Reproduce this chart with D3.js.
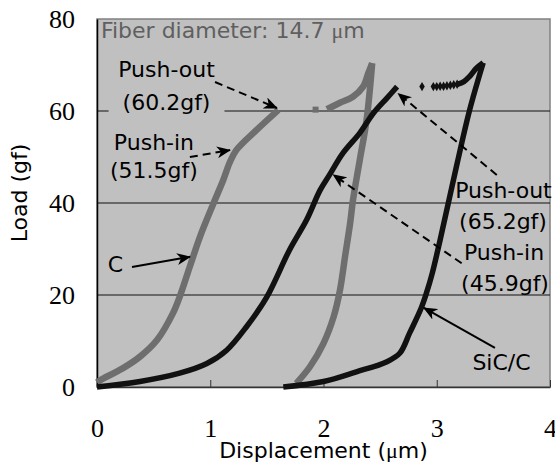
<!DOCTYPE html>
<html>
<head>
<meta charset="utf-8">
<script src="https://cdn.jsdelivr.net/npm/d3@7"></script>
<style>
	body { margin: 0; background: #fff; }
	svg { display: block; }
	.lbl { font-family: "DejaVu Sans", Verdana, sans-serif; font-size: 22px; }
	.tick text { font-family: "Liberation Serif", "Times New Roman", serif; font-size: 26px; fill: #000; }
</style>
</head>
<body>
<div id="graph"></div>
<script>
// axis ticks
var xTickVals = [0, 1, 2, 3, 4];
var yTickVals = [0, 20, 40, 60, 80];
var gridVals = [20, 40, 60];

// C fiber (gray): loading up to push-out
var cLoadX = [0.0, 0.03, 0.23, 0.38, 0.53, 0.67, 0.73, 0.82, 0.91, 1.03, 1.115, 1.17, 1.23, 1.41, 1.6];
var cLoadY = [1.0, 1.5, 4.1, 6.6, 10.2, 16, 19.6, 26.2, 32.7, 40, 45, 48.7, 51.5, 55.9, 60.2];
// single gray point after the jump
var cJumpX = [1.93];
var cJumpY = [60.3];
// reload to the top, then unload
var cReloadX = [2.03, 2.145, 2.26, 2.35, 2.395, 2.43];
var cReloadY = [60.4, 61.8, 63.1, 65.3, 68.2, 70.4];
var cUnloadX = [2.43, 2.38, 2.32, 2.26, 2.235, 2.19, 2.145, 2.09, 2.0, 1.88, 1.76];
var cUnloadY = [70.4, 58, 49.3, 40.6, 35.6, 28.3, 21, 15.3, 9.5, 4.4, 0.8];

// SiC/C fiber (black)
var sLoadX = [0, 0.38, 0.73, 0.97, 1.145, 1.32, 1.5, 1.7, 1.85, 1.97, 2.05, 2.17, 2.32, 2.44, 2.56, 2.65];
var sLoadY = [0, 1.2, 3, 5.1, 8, 13.1, 19.6, 29.8, 36.3, 42.8, 46, 50.8, 55.2, 59.5, 62.8, 65.3];
var sDotsX = [2.87, 2.97, 3.0, 3.03, 3.06, 3.09, 3.12, 3.15, 3.18];
var sDotsY = [65.3, 65.3, 65.3, 65.4, 65.4, 65.5, 65.6, 65.7, 65.8];
var sReloadX = [3.18, 3.24, 3.29, 3.35, 3.41];
var sReloadY = [65.8, 66.4, 67.5, 69.3, 70.5];
var sUnloadX = [3.41, 3.29, 3.18, 3.03, 2.96, 2.91, 2.86, 2.76, 2.675, 2.56, 2.29, 2.0, 1.645];
var sUnloadY = [70.5, 60.2, 48.6, 32, 24.7, 20.5, 17, 11.7, 7.4, 5.5, 3.3, 1.2, 0];

// annotations, in data units
var noteText = ["Push-out", "(60.2gf)", "Push-in", "(51.5gf)", "C", "Push-out", "(65.2gf)", "Push-in", "(45.9gf)", "SiC/C"];
var noteX = [0.614, 0.614, 0.503, 0.503, 0.163, 3.589, 3.585, 3.594, 3.603, 3.572];
var noteY = [67.4, 60.2, 51.5, 45.4, 25, 41.1, 34.3, 27.6, 20.9, 3.7];
var arrowX1 = [1.042, 0.82, 0.309, 3.53, 3.22, 3.514];
var arrowY1 = [66.3, 50.0, 26.1, 46.1, 26.9, 8.5];
var arrowX2 = [1.589, 1.174, 0.821, 2.66, 2.087, 2.887];
var arrowY2 = [60.65, 51.5, 28.3, 63.8, 46.1, 17.2];
var arrowDashed = [true, true, false, true, true, false];

function zip(xs, ys) {
	var out = [];
	for (var i = 0; i < xs.length; i++) {
		out.push([xs[i], ys[i]]);
	}
	return out;
}

var width = 555, height = 462;
var margin = {top: 19, right: 5, bottom: 75, left: 97};

var svg = d3.select("#graph").append("svg")
	.attr("width", width)
	.attr("height", height);

var x = d3.scaleLinear().domain([0, 4]).range([margin.left, width - margin.right]);
var y = d3.scaleLinear().domain([0, 80]).range([height - margin.bottom, margin.top]);

// arrow heads
var defs = svg.append("defs");
defs.append("marker")
	.attr("id", "head")
	.attr("markerUnits", "userSpaceOnUse")
	.attr("markerWidth", 14)
	.attr("markerHeight", 12)
	.attr("viewBox", "0 0 14 12")
	.attr("refX", 13)
	.attr("refY", 6)
	.attr("orient", "auto")
	.append("path")
	.attr("d", "M0,0 L14,6 L0,12 L4,6 Z")
	.attr("fill", "#000");

// plot background
svg.append("rect")
	.attr("x", x(0))
	.attr("y", y(80))
	.attr("width", x(4) - x(0))
	.attr("height", y(0) - y(80))
	.attr("fill", "#c0c0c0")
	.attr("stroke", "#808080")
	.attr("stroke-width", 1.5);

// grid
svg.selectAll("line.grid").data(gridVals)
	.enter().append("line")
	.attr("class", "grid")
	.attr("x1", x(0))
	.attr("x2", x(4))
	.attr("y1", function (d) { return y(d); })
	.attr("y2", function (d) { return y(d); })
	.attr("stroke", "#111")
	.attr("stroke-width", 1.2);

// axes
var xAxis = svg.append("g")
	.attr("transform", "translate(0," + y(0) + ")")
	.call(d3.axisBottom(x).tickValues(xTickVals).tickFormat(d3.format("d"))
		.tickSizeInner(-7).tickSizeOuter(0).tickPadding(32));
xAxis.select(".domain").attr("stroke", "#333").attr("stroke-width", 1.5);
xAxis.selectAll(".tick line").attr("stroke", "#333");

var yAxis = svg.append("g")
	.attr("transform", "translate(" + x(0) + ",0)")
	.call(d3.axisLeft(y).tickValues(yTickVals).tickFormat(d3.format("d")).tickSize(0).tickPadding(22));
yAxis.select(".domain").attr("stroke", "#000").attr("stroke-width", 1.5);

// axis titles
svg.append("text")
	.attr("class", "lbl")
	.attr("text-anchor", "middle")
	.attr("x", (x(0) + x(4)) / 2)
	.attr("y", 458)
	.html("Displacement (<tspan style='font-family:\"Liberation Serif\",serif'>&#956;</tspan>m)");
svg.append("text")
	.attr("class", "lbl")
	.attr("text-anchor", "middle")
	.attr("transform", "translate(27," + ((y(0) + y(80)) / 2 - 10) + ") rotate(-90)")
	.text("Load (gf)");

// fiber diameter note
svg.append("text")
	.attr("class", "lbl")
	.attr("x", x(0.035))
	.attr("y", y(75.9))
	.attr("fill", "#5f5f5f")
	.html("Fiber diameter: 14.7 <tspan style='font-family:\"Liberation Serif\",serif'>&#956;</tspan>m");

// gray box behind left push-out label (hides the 60 grid line)
var boxLayer = svg.append("g");

var line = d3.line()
	.x(function (d) { return x(d[0]); })
	.y(function (d) { return y(d[1]); })
	.curve(d3.curveCatmullRom.alpha(0.5));

var grayC = "#6e6e6e";
var blackC = "#111";

// C curves
[zip(cLoadX, cLoadY), zip(cReloadX, cReloadY), zip(cUnloadX, cUnloadY)].forEach(function (pts) {
	svg.append("path")
		.attr("d", line(pts))
		.attr("fill", "none")
		.attr("stroke", grayC)
		.attr("stroke-width", 6.5)
		.attr("stroke-linejoin", "round");
});
svg.selectAll("rect.jump").data(zip(cJumpX, cJumpY))
	.enter().append("rect")
	.attr("class", "jump")
	.attr("x", function (d) { return x(d[0]) - 3; })
	.attr("y", function (d) { return y(d[1]) - 3; })
	.attr("width", 6)
	.attr("height", 6)
	.attr("fill", grayC);

// SiC/C curves
[zip(sLoadX, sLoadY), zip(sReloadX, sReloadY), zip(sUnloadX, sUnloadY)].forEach(function (pts) {
	svg.append("path")
		.attr("d", line(pts))
		.attr("fill", "none")
		.attr("stroke", blackC)
		.attr("stroke-width", 5.5)
		.attr("stroke-linejoin", "round");
});
svg.selectAll("path.dot").data(zip(sDotsX, sDotsY))
	.enter().append("path")
	.attr("class", "dot")
	.attr("transform", function (d) { return "translate(" + x(d[0]) + "," + y(d[1]) + ")"; })
	.attr("d", d3.symbol().type(d3.symbolDiamond).size(26))
	.attr("fill", blackC);

// arrows
svg.selectAll("line.arrow").data(arrowX1)
	.enter().append("line")
	.attr("class", "arrow")
	.attr("x1", function (d, i) { return x(arrowX1[i]); })
	.attr("y1", function (d, i) { return y(arrowY1[i]); })
	.attr("x2", function (d, i) { return x(arrowX2[i]); })
	.attr("y2", function (d, i) { return y(arrowY2[i]); })
	.attr("stroke", "#000")
	.attr("stroke-width", 2)
	.attr("stroke-dasharray", function (d, i) { return arrowDashed[i] ? "8,5" : null; })
	.attr("marker-end", "url(#head)");

// annotation text
svg.selectAll("text.note").data(noteText)
	.enter().append("text")
	.attr("class", "lbl note")
	.attr("text-anchor", "middle")
	.attr("x", function (d, i) { return x(noteX[i]); })
	.attr("y", function (d, i) { return y(noteY[i]); })
	.text(function (d) { return d; });

// box behind "(60.2gf)"
var bb = svg.selectAll("text.note").nodes()[1].getBBox();
boxLayer.append("rect")
	.attr("x", bb.x - 14)
	.attr("y", bb.y - 2)
	.attr("width", bb.width + 28)
	.attr("height", bb.height + 4)
	.attr("fill", "#c0c0c0");
</script>
</body>
</html>
